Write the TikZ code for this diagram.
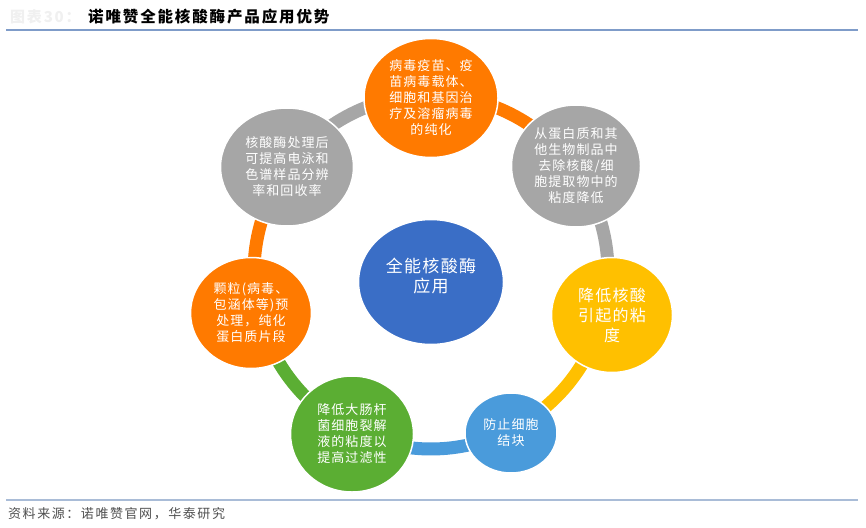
\documentclass[tikz,border=0pt]{standalone}
\usepackage{fontspec}
\setmainfont{Noto Sans CJK SC}
\newfontfamily\cjk[LetterSpace=8]{Noto Sans CJK SC}
\newfontfamily\cjkt[LetterSpace=12]{Noto Sans CJK SC}
\usetikzlibrary{shapes.geometric,calc}
\definecolor{corange}{HTML}{FF7A00}
\definecolor{cgray}{HTML}{A6A6A6}
\definecolor{cyellow}{HTML}{FFC000}
\definecolor{clblue}{HTML}{4A9BDB}
\definecolor{cgreen}{HTML}{5BAE33}
\definecolor{cblue}{HTML}{3A6EC6}
\definecolor{ruleA}{HTML}{7F9CC9}
\definecolor{ruleB}{HTML}{A9BCD7}
\definecolor{foot}{HTML}{505050}
\begin{document}
\begin{tikzpicture}[x=1pt,y=-1pt,
  bub/.style={ellipse, draw=white, line width=1.5pt, inner sep=0pt, text=white, align=center, font=\cjk\fontsize{13}{16}\selectfont},
  band/.style={line width=13pt},
  lbl/.style={inner sep=0pt, text=white, align=center},
]
\useasboundingbox[fill=white] (0,0) rectangle (866,527);
% header
\node[anchor=west, inner sep=0pt, text=black!6, font=\cjkt\bfseries\fontsize{15}{18}\selectfont] (fig) at (10,17) {图表30：};
\node[anchor=west, inner sep=0pt, font=\cjkt\bfseries\fontsize{15.5}{18}\selectfont] (title) at (88,17) {诺唯赞全能核酸酶产品应用优势};
\coordinate (tl) at (6,30); \coordinate (tr) at (858,30);
\draw[ruleA, line width=1.8pt] (tl) -- (tr);
% footer
\coordinate (bl) at (6,500); \coordinate (br) at (858,500);
\draw[ruleB, line width=1.5pt] (bl) -- (br);
\node[anchor=west, inner sep=0pt, text=foot, font=\cjkt\fontsize{13}{16}\selectfont] (src) at (8,514) {资料来源：诺唯赞官网，华泰研究};
% ring
\coordinate (ctr) at (431,272);
\draw[band, corange] ($(ctr)+(-90:177)$) arc[start angle=-90, end angle=-36.2, radius=177];
\draw[band, cgray] ($(ctr)+(-36.2:177)$) arc[start angle=-36.2, end angle=13.4, radius=177];
\draw[band, cyellow] ($(ctr)+(13.4:177)$) arc[start angle=13.4, end angle=63.6, radius=177];
\draw[band, clblue] ($(ctr)+(63.6:177)$) arc[start angle=63.6, end angle=116, radius=177];
\draw[band, cgreen] ($(ctr)+(116:177)$) arc[start angle=116, end angle=167.2, radius=177];
\draw[band, corange] ($(ctr)+(167.2:177)$) arc[start angle=167.2, end angle=216.1, radius=177];
\draw[band, cgray] ($(ctr)+(216.1:177)$) arc[start angle=216.1, end angle=270, radius=177];
% bubbles
\node[bub, fill=corange, minimum width=134pt, minimum height=119pt] (n1) at (431,98)
  {病毒疫苗、疫\\苗病毒载体、\\细胞和基因治\\疗及溶瘤病毒\\的纯化};
\node[bub, fill=cgray, minimum width=129pt, minimum height=122pt] (n2) at (576,166)
  {从蛋白质和其\\他生物制品中\\去除核酸/细\\胞提取物中的\\粘度降低};
\node[bub, fill=cyellow, minimum width=121pt, minimum height=115pt, font=\cjk\fontsize{16}{20}\selectfont] (n3) at (612,315)
  {降低核酸\\引起的粘\\度};
\node[bub, fill=clblue, minimum width=92pt, minimum height=80pt] (n4) at (511,433)
  {防止细胞\\结块};
\node[bub, fill=cgreen, minimum width=123pt, minimum height=116pt] (n5) at (352,434)
  {降低大肠杆\\菌细胞裂解\\液的粘度以\\提高过滤性};
\node[bub, fill=corange, minimum width=121pt, minimum height=111pt] (n6) at (251,313)
  {颗粒(病毒、\\包涵体等)预\\处理，纯化\\蛋白质片段};
\node[bub, fill=cgray, minimum width=133pt, minimum height=118pt] (n7) at (287,167)
  {核酸酶处理后\\可提高电泳和\\色谱样品分辨\\率和回收率};
% centre
\node[ellipse, draw=white, line width=1.5pt, fill=cblue, minimum width=145pt, minimum height=125pt, inner sep=0pt] (c) at (431,282) {};
\node[lbl, font=\cjk\fontsize{17}{20.5}\selectfont] (ct) at (c.center) [yshift=6pt] {全能核酸酶\\应用};
\end{tikzpicture}
\end{document}
